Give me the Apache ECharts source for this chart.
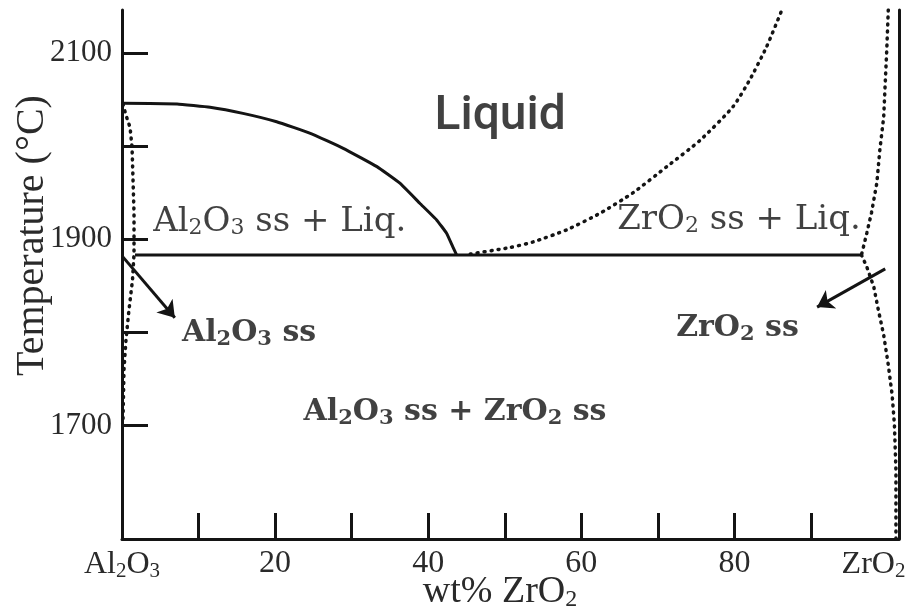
<!DOCTYPE html>
<html><head><meta charset="utf-8">
<script src="https://cdn.jsdelivr.net/npm/echarts@6/dist/echarts.min.js"></script>
<style>html,body{margin:0;padding:0;background:#fff}#c{width:916px;height:610px}</style>
</head><body><div id="c"></div>
<script>
// ---- axis ticks / labels ----
const X_TICKS = [10, 20, 30, 40, 50, 60, 70, 80, 90];
const X_LABEL_VALUES = [0, 20, 40, 60, 80, 100];
const Y_TICKS = [1700, 1800, 1900, 2000, 2100];
const Y_LABEL_VALUES = [1700, 1900, 2100];

// ---- phase boundaries: [wt% ZrO2, Temperature °C] ----
const AL2O3_LIQUIDUS = [[0,2046],[7.2,2045],[11.5,2041.5],[15.8,2035],[20.2,2026],[24.6,2013.6],[28.9,1997.5],[33.3,1977.8],[36.3,1960],[38.9,1938.5],[41.1,1920.6],[42.4,1906.3],[43.2,1892],[43.7,1883]];
const EUTECTIC = [[1.7,1883],[96.6,1883]];
const AL2O3_SOLVUS = [[0.13,2045],[0.52,2033],[1.05,2020],[1.31,1999],[1.44,1963.5],[1.57,1928],[1.57,1884],[1.37,1856],[0.91,1824],[0.52,1792],[0.26,1760],[0.13,1706]];
const ZRO2_LIQUIDUS_MID = [[45.5,1884],[50.7,1891],[53.7,1897],[58.1,1910],[62.5,1928],[66.8,1950],[71.2,1978],[75.5,2006],[79.8,2042],[82.0,2071],[84.2,2106.5],[86.2,2146]];
const ZRO2_LIQUIDUS_EDGE = [[100.1,2146],[99.9,2103],[99.7,2067.6],[99.5,2031],[99.0,1996],[98.6,1960],[97.9,1928],[97.3,1906.7],[96.6,1883]];
const ZRO2_SOLVUS = [[96.6,1883],[97.3,1870],[98.2,1849],[98.8,1824],[99.5,1797],[100.1,1765],[100.6,1733],[100.9,1701],[101.1,1652],[101.1,1578]];

// ---- annotations ----
const ARROWS = [[[0,1882],[6.9,1815.5]], [[99.7,1868],[90.8,1827]]];
const REGION_TEXT = ['Liquid', 'Al{s|2}O{s|3} ss + Liq.', 'ZrO{s|2} ss + Liq.', 'Al{b|2}O{b|3} ss', 'ZrO{b|2} ss', 'Al{b|2}O{b|3} ss + ZrO{b|2} ss'];
const REGION_POS = [[49.4,2031],[20.6,1918.5],[80.6,1920.6],[16.6,1799],[80.4,1804.7],[43.5,1714.6]];

const X_MIN = 0, X_MAX = 101.5, Y_MIN = 1578, Y_MAX = 2146;

const INK = '#141414';
const TXT = '#111';
const AXT = '#2a2a2a';
const solid = {color: INK, width: 3};
const dotted = {color: INK, width: 3.5, type: [1, 6], cap: 'round'};
function lineSeries(data, style, smooth) {
  return {type: 'line', data: data, showSymbol: false, symbol: 'none', smooth: smooth || false,
          lineStyle: style, z: 3, silent: true};
}
const subRich = {
  s: {fontSize: 22, lineHeight: 12, verticalAlign: 'bottom', fontFamily: 'DejaVu Serif', color: TXT},
  b: {fontSize: 21, lineHeight: 12, verticalAlign: 'bottom', fontFamily: 'DejaVu Serif', fontWeight: 'bold', color: TXT}
};

const chart = echarts.init(document.getElementById('c'));
chart.setOption({
  animation: false,
  backgroundColor: '#fff',
  grid: {left: 122, right: 17, top: 10, bottom: 71, outerBoundsMode: 'none', containLabel: false},
  xAxis: {
    type: 'value', min: X_MIN, max: X_MAX,
    name: '{n|wt% ZrO}{s|2}', nameLocation: 'middle', nameGap: 33, nameMoveOverlap: false,
    nameTextStyle: {padding: [0, 21, 0, 0], rich: {
      n: {fontFamily: 'Liberation Serif', fontSize: 38, color: AXT, lineHeight: 40},
      s: {fontFamily: 'Liberation Serif', fontSize: 24, color: AXT, lineHeight: 22, verticalAlign: 'bottom'}}},
    axisLine: {lineStyle: {color: INK, width: 3}},
    splitLine: {show: false},
    axisTick: {inside: true, length: 26, customValues: X_TICKS, lineStyle: {color: INK, width: 3}},
    axisLabel: {
      customValues: X_LABEL_VALUES, margin: 9,
      fontFamily: 'Liberation Serif', fontSize: 32, color: AXT,
      formatter: function (v) {
        if (v === 0) return '{n|Al}{s|2}{n|O}{s|3}';
        if (v === 100) return '{n|ZrO}{zs|2}';
        return String(v);
      },
      rich: {
        n: {fontFamily: 'Liberation Serif', fontSize: 32, color: AXT, lineHeight: 34},
        s: {fontFamily: 'Liberation Serif', fontSize: 21, color: AXT, lineHeight: 20, verticalAlign: 'bottom'},
        zs: {fontFamily: 'Liberation Serif', fontSize: 21, color: AXT, lineHeight: 20, verticalAlign: 'bottom', padding: [0, 28, 0, 0]}
      }
    }
  },
  yAxis: [{
    type: 'value', min: Y_MIN, max: Y_MAX,
    name: 'Temperature (°C)', nameLocation: 'middle', nameRotate: 90, nameGap: 70, nameMoveOverlap: false,
    nameTextStyle: {fontFamily: 'Liberation Serif', fontSize: 40, color: AXT, padding: [0, 0, 0, 78]},
    axisLine: {show: true, lineStyle: {color: INK, width: 3}},
    splitLine: {show: false},
    axisTick: {inside: true, length: 26, customValues: Y_TICKS, lineStyle: {color: INK, width: 3}},
    axisLabel: {customValues: Y_LABEL_VALUES, margin: 10, fontFamily: 'Liberation Serif', fontSize: 31, color: AXT,
                formatter: function (v) { return String(v); }}
  }, {
    type: 'value', min: Y_MIN, max: Y_MAX, position: 'right',
    axisLine: {show: true, lineStyle: {color: INK, width: 3}},
    axisTick: {show: false}, axisLabel: {show: false}, splitLine: {show: false}
  }],
  series: [
    lineSeries(AL2O3_LIQUIDUS, solid, 0.1),
    lineSeries(EUTECTIC, solid),
    lineSeries(AL2O3_SOLVUS, dotted),
    lineSeries(ZRO2_LIQUIDUS_MID, dotted, 0.2),
    lineSeries(ZRO2_LIQUIDUS_EDGE, dotted),
    lineSeries(ZRO2_SOLVUS, dotted),
    {
      type: 'lines', coordinateSystem: 'cartesian2d', silent: true, z: 4,
      symbol: ['none', 'arrow'], symbolSize: 16,
      lineStyle: {color: INK, width: 3, opacity: 1},
      data: ARROWS.map(a => ({coords: a}))
    },
    {
      type: 'scatter', symbolSize: 0, silent: true, z: 5,
      data: REGION_POS.map((p, i) => {
        const isLiquid = i === 0;
        const isBold = i >= 3;
        return {
          value: p,
          label: {
            show: true, position: 'inside', formatter: REGION_TEXT[i],
            color: TXT,
            fontFamily: isLiquid ? 'Roboto' : 'DejaVu Serif',
            fontWeight: isLiquid ? 500 : (isBold ? 'bold' : 'normal'),
            fontSize: isLiquid ? 48 : (isBold ? 30 : 34),
            lineHeight: isLiquid ? 50 : 34,
            rich: subRich
          }
        };
      })
    }
  ]
});
</script></body></html>
